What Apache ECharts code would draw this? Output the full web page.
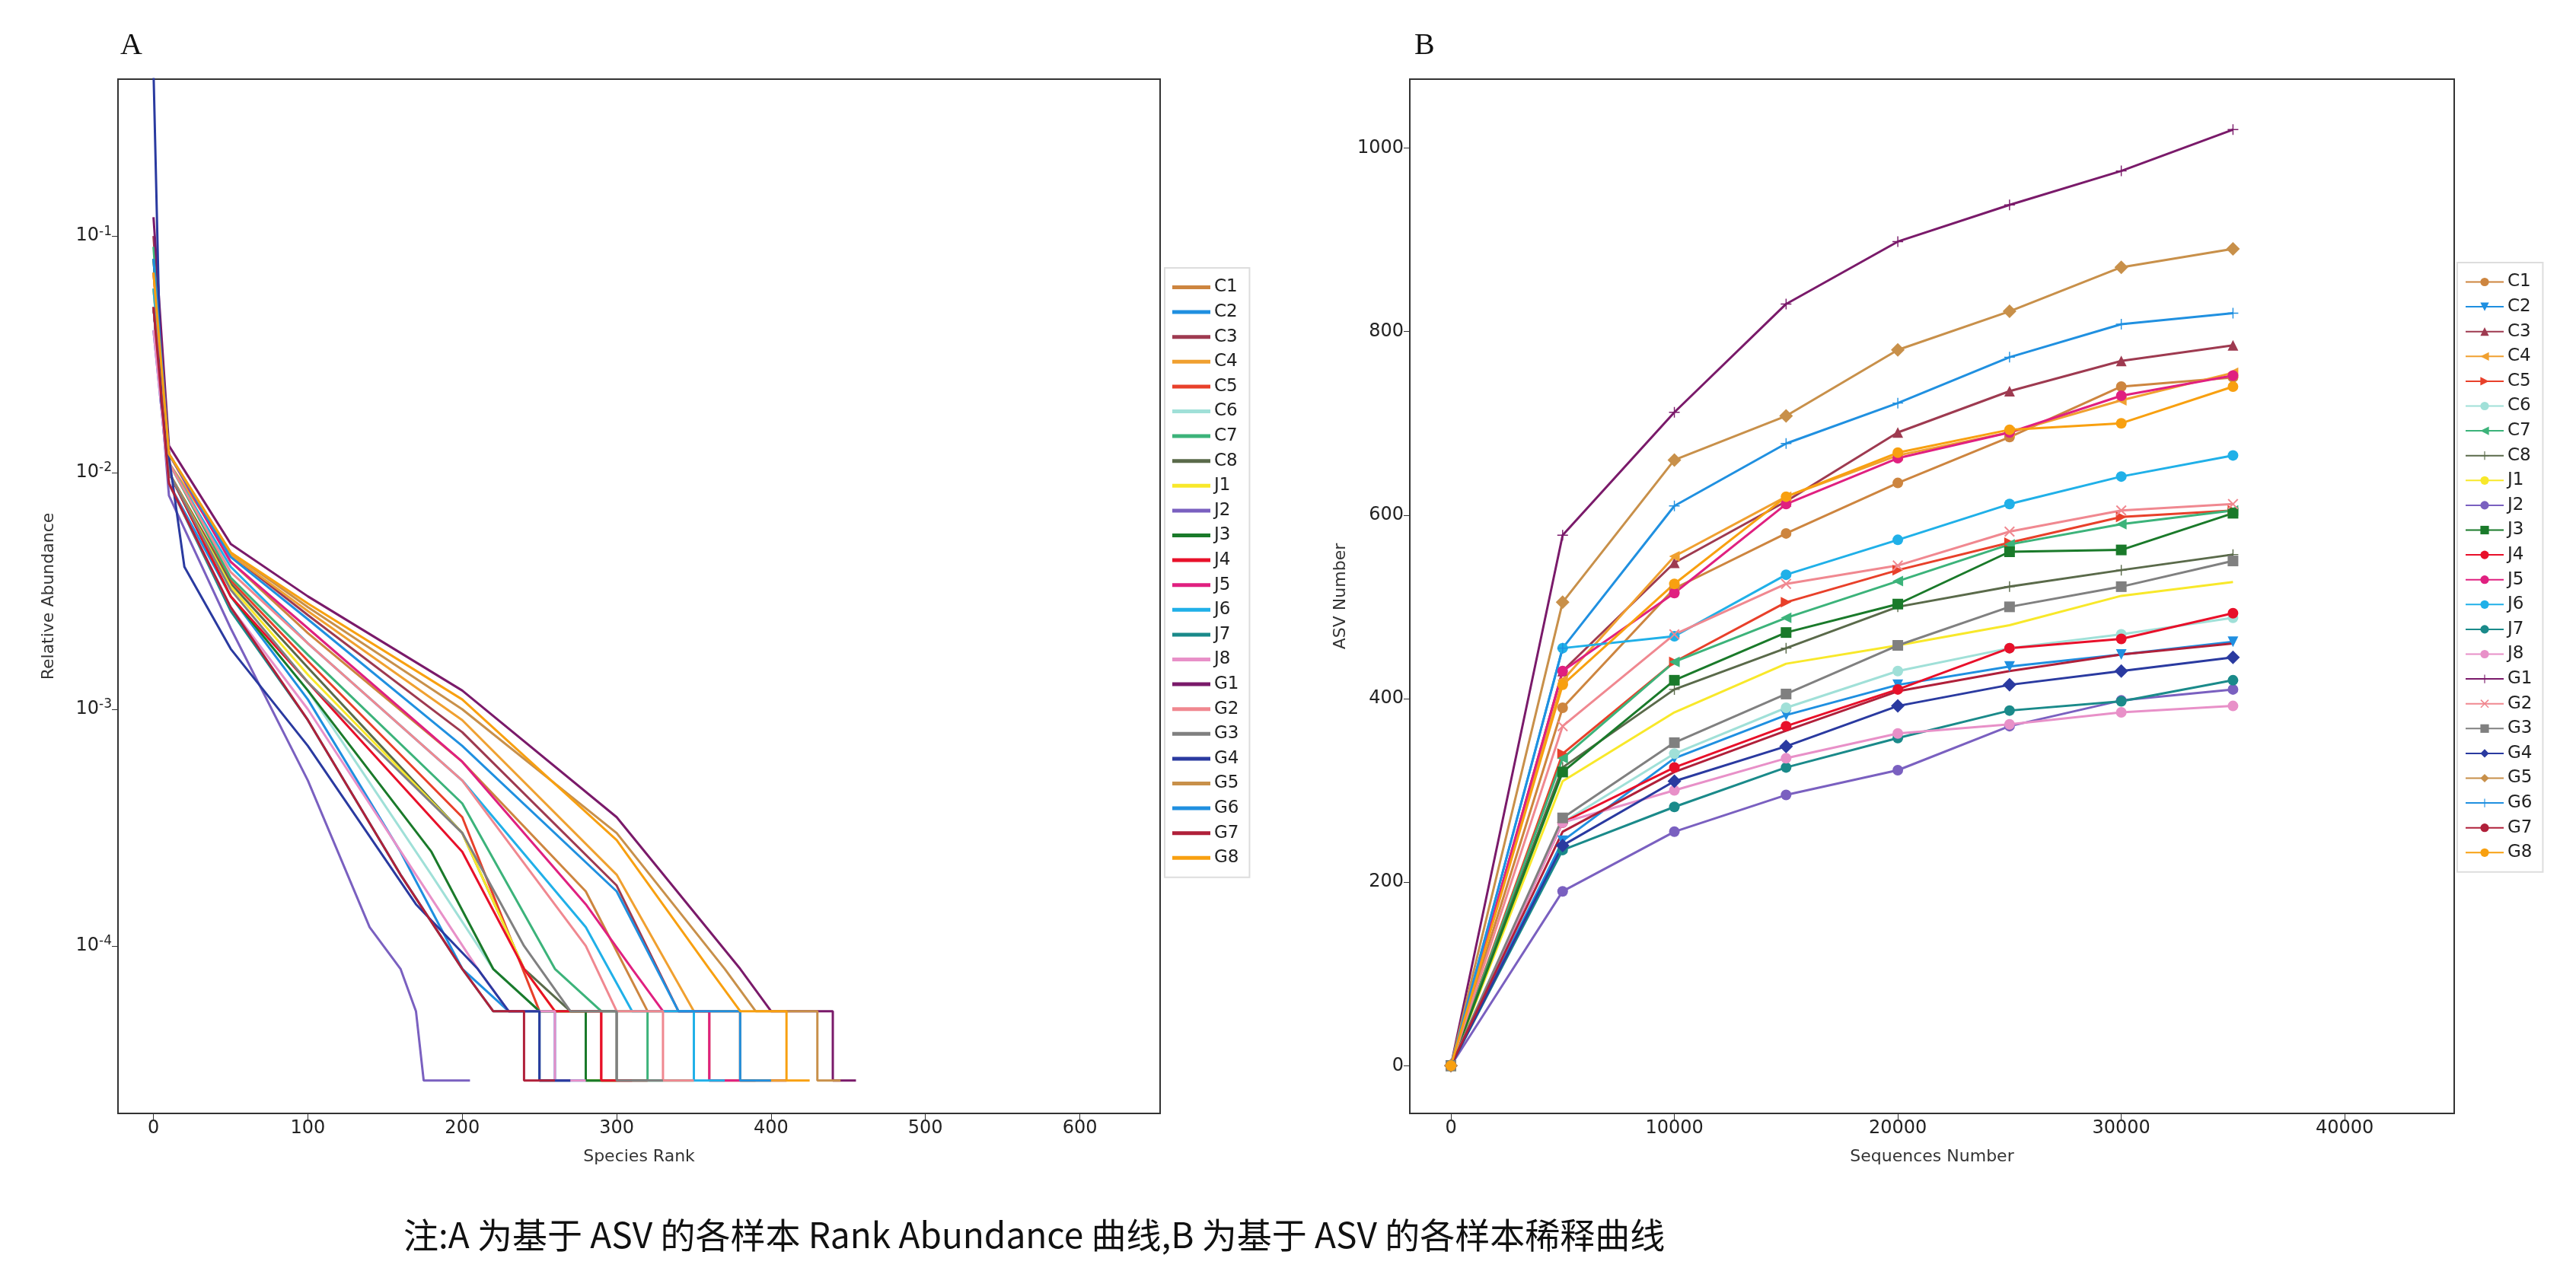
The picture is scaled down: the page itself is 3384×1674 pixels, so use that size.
<!DOCTYPE html>
<html><head><meta charset="utf-8">
<script src="https://cdn.jsdelivr.net/npm/echarts@6/dist/echarts.min.js"></script>
<style>html,body{margin:0;background:#fff}#c{width:3384px;height:1674px}</style>
</head><body><div id="c"></div>
<script>
const names = ['C1','C2','C3','C4','C5','C6','C7','C8','J1','J2','J3','J4','J5','J6','J7','J8','G1','G2','G3','G4','G5','G6','G7','G8'];
const colors = ['#cd853f','#1f8fe0','#9e3a50','#f0a030','#e8402a','#a0e0d8','#3cb37a','#5a6a4a','#f8e82a','#7a60c0','#1a7a2a','#e8102a','#e02080','#20b0e8','#1a8a8a','#e890c8','#7a1a6a','#f08890','#808080','#2a3aa0','#c8904a','#2090e0','#b0203a','#f8a010'];
// Panel A: rank abundance (rank, relative abundance) breakpoints
const A_C1=[[0,0.08],[10,0.012],[50,0.0042],[100,0.0021],[200,0.0006],[280,0.00017],[320,0.000053],[360,0.000053],[360,0.000027],[390,0.000027]];
const A_C2=[[0,0.04],[10,0.009],[50,0.003],[100,0.0011],[160,0.00025],[200,0.00008],[230,0.000053],[260,0.000053],[260,0.000027],[290,0.000027]];
const A_C3=[[0,0.1],[10,0.012],[50,0.0045],[100,0.0025],[200,0.0008],[300,0.00018],[340,0.000053],[380,0.000053],[380,0.000027],[410,0.000027]];
const A_C4=[[0,0.06],[10,0.011],[50,0.0045],[100,0.0026],[200,0.0009],[300,0.0002],[350,0.000053],[380,0.000053],[380,0.000027],[410,0.000027]];
const A_C5=[[0,0.05],[10,0.010],[50,0.0035],[100,0.0016],[200,0.00035],[250,0.000053],[290,0.000053],[290,0.000027],[320,0.000027]];
const A_C6=[[0,0.05],[10,0.010],[50,0.003],[100,0.0012],[180,0.0002],[220,0.00008],[250,0.000053],[280,0.000053],[280,0.000027],[300,0.000027]];
const A_C7=[[0,0.09],[10,0.011],[50,0.0036],[100,0.0017],[200,0.0004],[260,0.00008],[290,0.000053],[320,0.000053],[320,0.000027],[350,0.000027]];
const A_C8=[[0,0.05],[10,0.010],[50,0.0034],[100,0.0015],[200,0.0003],[240,0.00008],[270,0.000053],[300,0.000053],[300,0.000027],[320,0.000027]];
const A_J1=[[0,0.06],[10,0.010],[50,0.0033],[100,0.0014],[200,0.0003],[240,0.00008],[260,0.000053],[280,0.000053],[280,0.000027],[300,0.000027]];
const A_J2=[[0,0.05],[10,0.008],[50,0.0022],[100,0.0005],[140,0.00012],[160,0.00008],[170,0.000053],[175,0.000027],[205,0.000027]];
const A_J3=[[0,0.08],[10,0.010],[50,0.003],[100,0.0012],[180,0.00025],[220,0.00008],[250,0.000053],[280,0.000053],[280,0.000027],[300,0.000027]];
const A_J4=[[0,0.05],[10,0.010],[50,0.003],[100,0.0013],[200,0.00025],[240,0.00008],[260,0.000053],[290,0.000053],[290,0.000027],[310,0.000027]];
const A_J5=[[0,0.07],[10,0.012],[50,0.0042],[100,0.0022],[200,0.0006],[280,0.00015],[310,0.00008],[330,0.000053],[360,0.000053],[360,0.000027],[380,0.000027]];
const A_J6=[[0,0.06],[10,0.011],[50,0.004],[100,0.0019],[200,0.0005],[280,0.00012],[310,0.000053],[350,0.000053],[350,0.000027],[370,0.000027]];
const A_J7=[[0,0.05],[10,0.009],[50,0.0026],[100,0.0009],[160,0.0002],[200,0.00008],[220,0.000053],[250,0.000053],[250,0.000027],[270,0.000027]];
const A_J8=[[0,0.04],[10,0.009],[50,0.0027],[100,0.0010],[170,0.0002],[210,0.00008],[230,0.000053],[260,0.000053],[260,0.000027],[280,0.000027]];
const A_G1=[[0,0.12],[10,0.013],[50,0.005],[100,0.003],[200,0.0012],[300,0.00035],[380,0.00008],[400,0.000053],[440,0.000053],[440,0.000027],[455,0.000027]];
const A_G2=[[0,0.05],[10,0.011],[50,0.0038],[100,0.0019],[200,0.0005],[280,0.0001],[300,0.000053],[330,0.000053],[330,0.000027],[350,0.000027]];
const A_G3=[[0,0.05],[10,0.010],[50,0.0032],[100,0.0013],[200,0.0003],[240,0.0001],[270,0.000053],[300,0.000053],[300,0.000027],[330,0.000027]];
const A_G4=[[0,0.5],[5,0.02],[20,0.004],[50,0.0018],[100,0.0007],[170,0.00015],[210,0.00008],[230,0.000053],[250,0.000053],[250,0.000027],[270,0.000027]];
const A_G5=[[0,0.07],[10,0.012],[50,0.0046],[100,0.0027],[200,0.001],[300,0.0003],[370,0.00008],[390,0.000053],[430,0.000053],[430,0.000027],[445,0.000027]];
const A_G6=[[0,0.08],[10,0.012],[50,0.0044],[100,0.0024],[200,0.0007],[300,0.00017],[340,0.000053],[380,0.000053],[380,0.000027],[400,0.000027]];
const A_G7=[[0,0.05],[10,0.009],[50,0.0027],[100,0.0009],[160,0.0002],[200,0.00008],[220,0.000053],[240,0.000053],[240,0.000027],[260,0.000027]];
const A_G8=[[0,0.07],[10,0.012],[50,0.0046],[100,0.0028],[200,0.0011],[300,0.00028],[360,0.00008],[380,0.000053],[410,0.000053],[410,0.000027],[425,0.000027]];
const rankData=[A_C1,A_C2,A_C3,A_C4,A_C5,A_C6,A_C7,A_C8,A_J1,A_J2,A_J3,A_J4,A_J5,A_J6,A_J7,A_J8,A_G1,A_G2,A_G3,A_G4,A_G5,A_G6,A_G7,A_G8];
// Panel B: rarefaction
const seqDepth=[0,5000,10000,15000,20000,25000,30000,35000];
const B_C1=[0,390,520,580,635,685,740,750];
const B_C2=[0,245,335,382,415,435,448,462];
const B_C3=[0,430,548,615,690,735,768,785];
const B_C4=[0,420,555,620,665,690,725,755];
const B_C5=[0,340,440,505,540,570,598,605];
const B_C6=[0,265,340,390,430,455,470,488];
const B_C7=[0,335,440,488,528,568,590,605];
const B_C8=[0,325,410,455,500,522,540,557];
const B_J1=[0,310,385,438,458,480,512,527];
const B_J2=[0,190,255,295,322,370,398,410];
const B_J3=[0,320,420,472,503,560,562,602];
const B_J4=[0,265,325,370,410,455,465,493];
const B_J5=[0,430,515,612,662,690,730,752];
const B_J6=[0,455,468,535,573,612,642,665];
const B_J7=[0,235,282,325,357,387,397,420];
const B_J8=[0,265,300,335,362,372,385,392];
const B_G1=[0,578,712,830,898,938,975,1020];
const B_G2=[0,370,470,525,545,582,605,612];
const B_G3=[0,270,352,405,458,500,522,550];
const B_G4=[0,240,310,348,392,415,430,445];
const B_G5=[0,505,660,708,780,822,870,890];
const B_G6=[0,455,610,678,722,772,808,820];
const B_G7=[0,255,320,365,408,430,448,460];
const B_G8=[0,415,525,620,668,693,700,740];
const rareData=[B_C1,B_C2,B_C3,B_C4,B_C5,B_C6,B_C7,B_C8,B_J1,B_J2,B_J3,B_J4,B_J5,B_J6,B_J7,B_J8,B_G1,B_G2,B_G3,B_G4,B_G5,B_G6,B_G7,B_G8];
const plus='path://M45,0H55V45H100V55H55V100H45V55H0V45H45Z';
const cross='path://M10,0L50,40L90,0L100,10L60,50L100,90L90,100L50,60L10,100L0,90L40,50L0,10Z';
const markers=['circle','triangle','triangle','triangle','triangle','circle','triangle','plus','none','circle','rect','circle','circle','circle','circle','circle','plus','cross','rect','diamond','diamond','plus','none','circle'];
const rot=[0,180,0,90,-90,0,90,0,0,0,0,0,0,0,0,0,0,0,0,0,0,0,0,0];
const sym=m=>m==='plus'?plus:(m==='cross'?cross:m);
const tickFont={fontSize:24,color:'#222',fontFamily:'DejaVu Sans'};
const series=[];
names.forEach((n,i)=>{
  series.push({name:n,type:'line',xAxisIndex:0,yAxisIndex:0,data:rankData[i],showSymbol:false,lineStyle:{width:3,color:colors[i]},itemStyle:{color:colors[i]}});
  series.push({name:n+' ',type:'line',xAxisIndex:1,yAxisIndex:1,data:seqDepth.map((x,j)=>[x,rareData[i][j]]),symbol:sym(markers[i]),symbolRotate:rot[i],symbolSize:markers[i]==='diamond'?18:14,showSymbol:markers[i]!=='none',lineStyle:{width:3,color:colors[i]},itemStyle:{color:colors[i]}});
});
const legendBase={orient:'vertical',itemWidth:50,itemHeight:14,itemGap:9.6,textStyle:{fontSize:23,color:'#222',fontFamily:'DejaVu Sans'},borderColor:'#ddd',borderWidth:2,padding:[14,14,14,10],backgroundColor:'#fff'};
const opt={animation:false,
 graphic:[{type:'text',left:158,top:40,style:{text:'A',fontSize:40,fontFamily:'Liberation Serif',fill:'#111'}},
  {type:'text',left:1858,top:40,style:{text:'B',fontSize:40,fontFamily:'Liberation Serif',fill:'#111'}},
  {type:'text',left:530,top:1600,style:{text:'注:A 为基于 ASV 的各样本 Rank Abundance 曲线,B 为基于 ASV 的各样本稀释曲线',fontSize:46,fontFamily:'Noto Sans CJK SC',fill:'#111'}}],
 grid:[{left:155,top:104,width:1369,height:1359,show:true,borderColor:'#333',borderWidth:2},
       {left:1852,top:104,width:1372,height:1359,show:true,borderColor:'#333',borderWidth:2}],
 legend:[{...legendBase,data:names,left:1530,top:352,icon:'path://M0,45H100V55H0Z'},
         {...legendBase,data:names.map(n=>n+' '),left:3228,top:345,formatter:s=>s.trim()}],
 xAxis:[{type:'value',gridIndex:0,min:-23,max:652,name:'Species Rank',nameLocation:'middle',nameGap:46,nameTextStyle:{fontSize:22,fontFamily:'DejaVu Sans'},
   splitLine:{show:false},axisLine:{onZero:false,lineStyle:{color:'#333',width:2}},axisTick:{length:8,customValues:[0,100,200,300,400,500,600]},axisLabel:{...tickFont,customValues:[0,100,200,300,400,500,600]}},
  {type:'value',gridIndex:1,min:-1840,max:44900,name:'Sequences Number',nameLocation:'middle',nameGap:46,nameTextStyle:{fontSize:22,fontFamily:'DejaVu Sans'},
   splitLine:{show:false},axisLine:{onZero:false,lineStyle:{color:'#333',width:2}},axisTick:{length:8,customValues:[0,10000,20000,30000,40000]},axisLabel:{...tickFont,customValues:[0,10000,20000,30000,40000],formatter:v=>String(v)}}],
 yAxis:[{type:'log',gridIndex:0,min:1.96e-5,max:0.46,logBase:10,name:'Relative Abundance',nameLocation:'middle',nameGap:80,nameTextStyle:{fontSize:22,fontFamily:'DejaVu Sans'},
   splitLine:{show:false},axisLine:{onZero:false,lineStyle:{color:'#333',width:2}},axisTick:{length:8,customValues:[1e-4,1e-3,1e-2,1e-1]},
   axisLabel:{...tickFont,customValues:[1e-4,1e-3,1e-2,1e-1],formatter:v=>'{b|10}{s|'+Math.round(Math.log10(v))+'}',
     rich:{b:{fontSize:24,fontFamily:'DejaVu Sans',color:'#222'},s:{fontSize:17,fontFamily:'DejaVu Sans',color:'#222',verticalAlign:'top',padding:[0,0,12,0]}}}},
  {type:'value',gridIndex:1,min:-52,max:1075,name:'ASV Number',nameLocation:'middle',nameGap:80,nameTextStyle:{fontSize:22,fontFamily:'DejaVu Sans'},
   splitLine:{show:false},axisLine:{onZero:false,lineStyle:{color:'#333',width:2}},axisTick:{length:8,customValues:[0,200,400,600,800,1000]},axisLabel:{...tickFont,customValues:[0,200,400,600,800,1000],formatter:v=>String(v)}}],
 series};
echarts.init(document.getElementById('c')).setOption(opt);
</script></body></html>
